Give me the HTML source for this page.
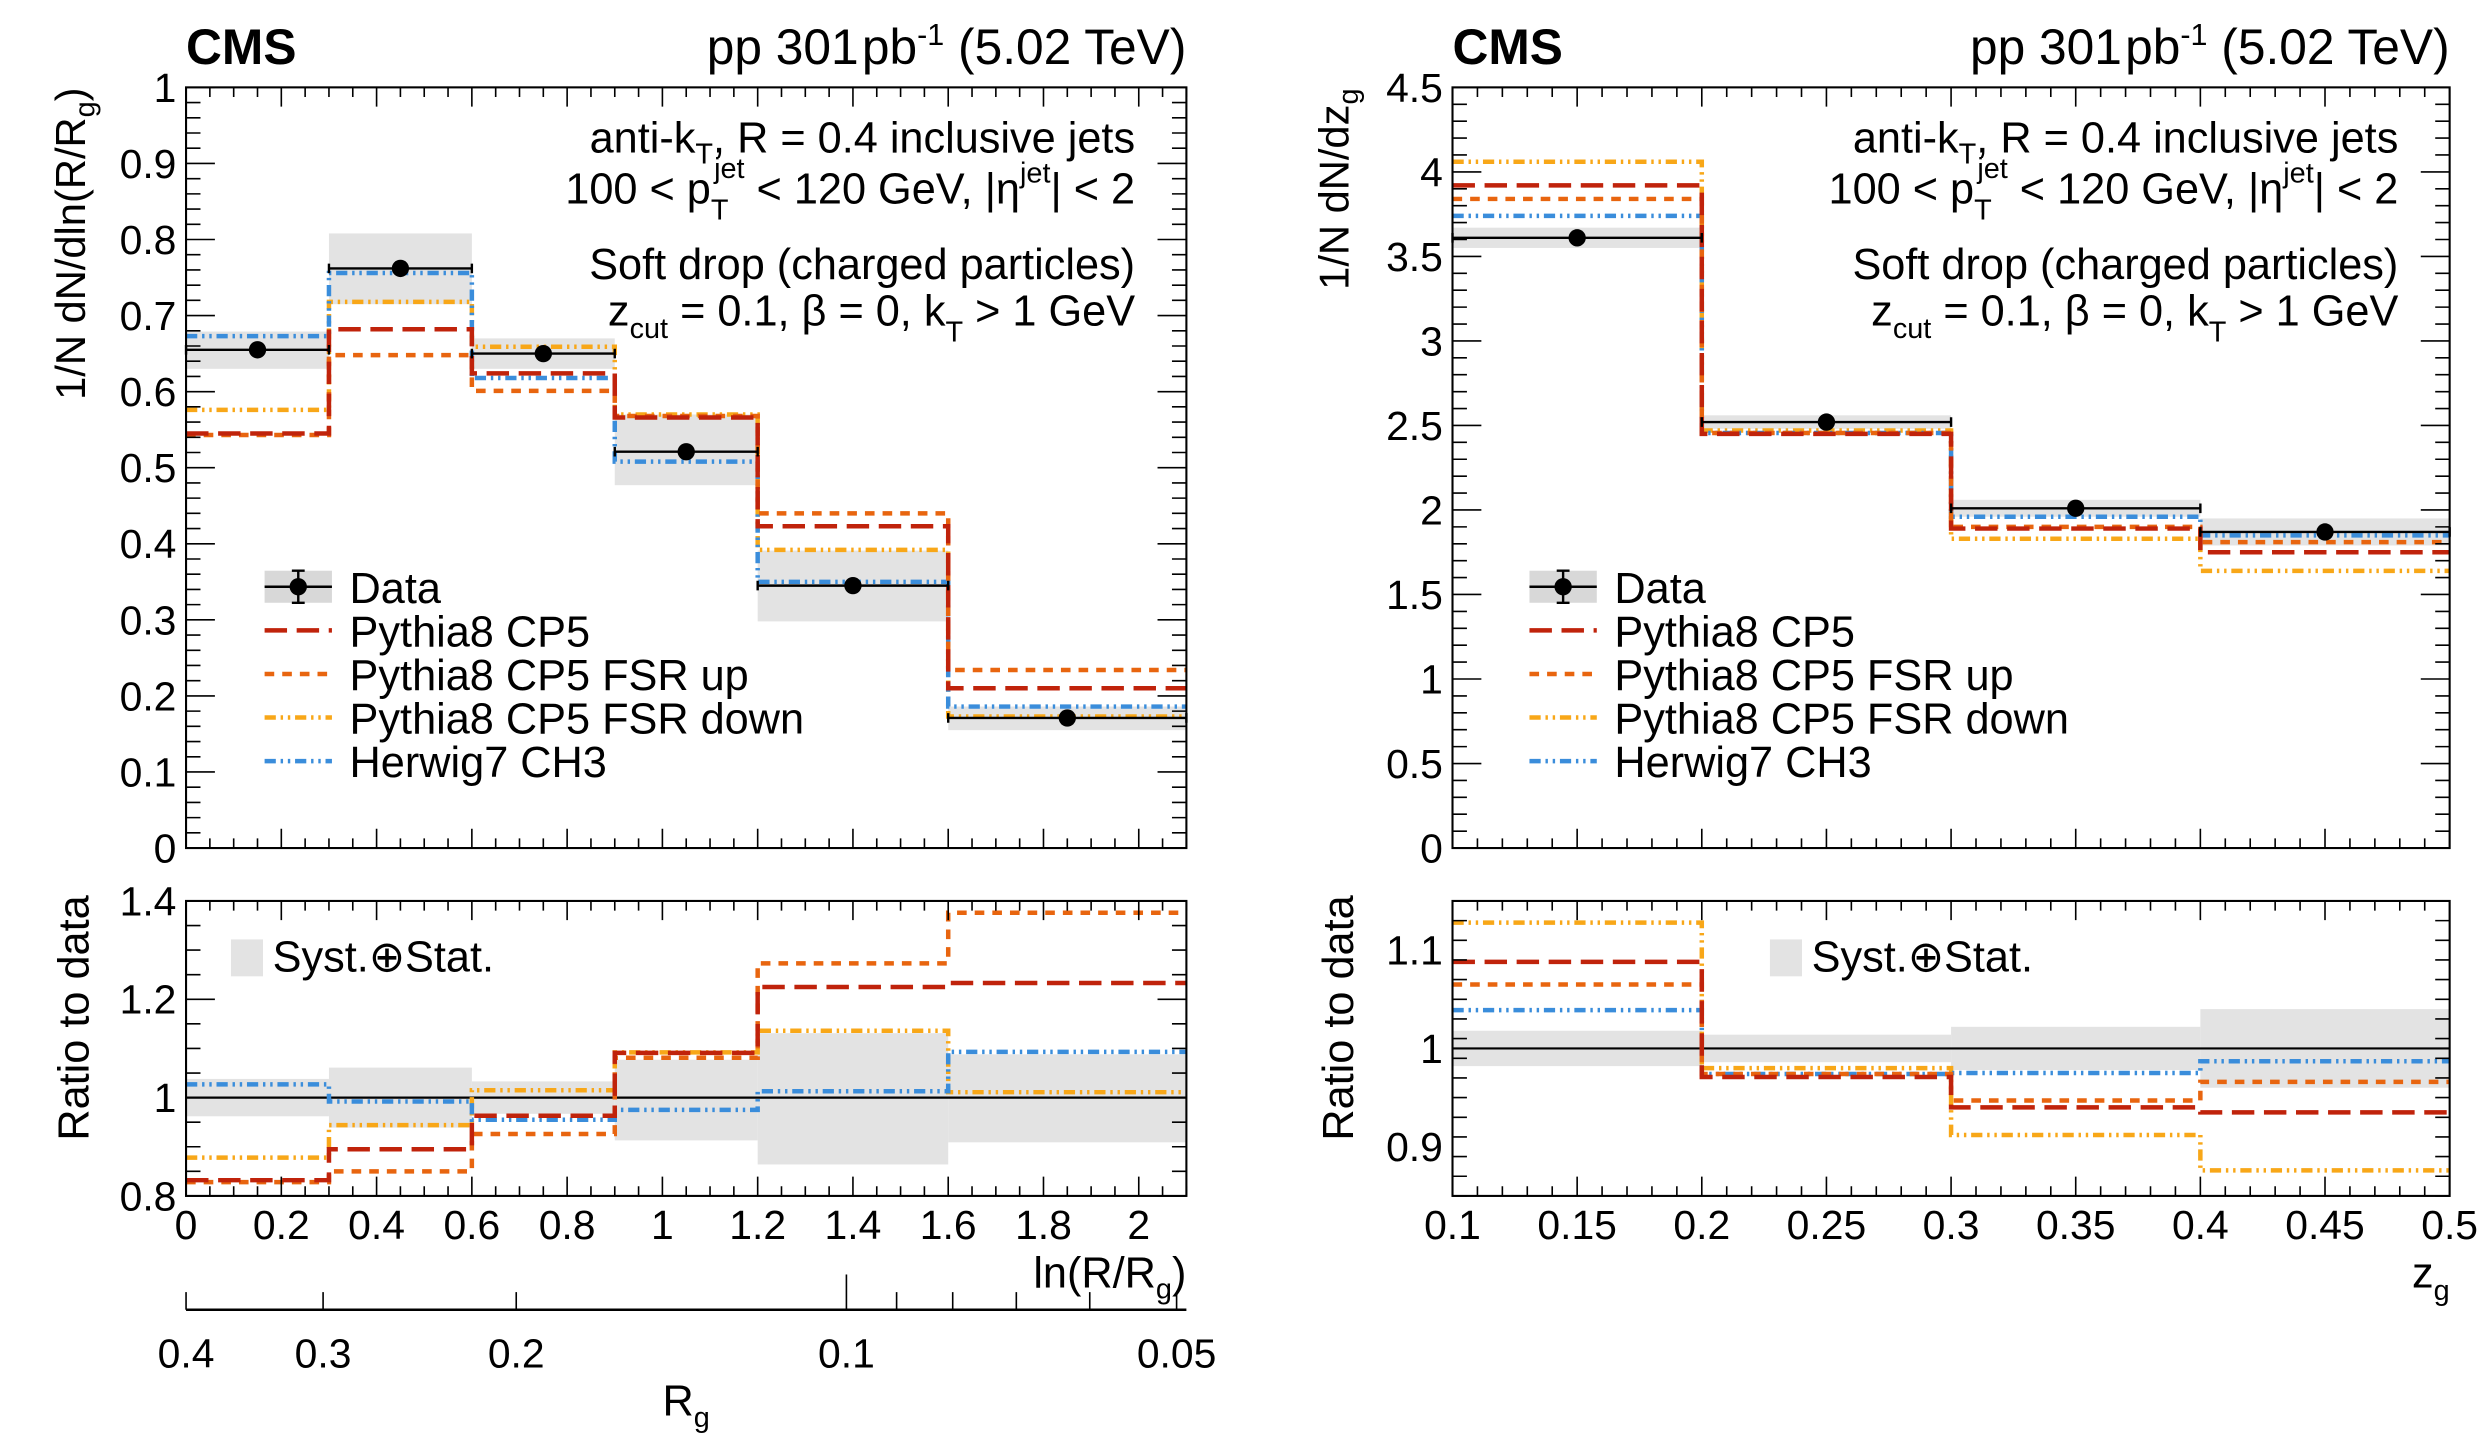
<!DOCTYPE html>
<html><head><meta charset="utf-8"><style>
html,body{margin:0;padding:0;background:#fff}
svg{display:block;font-family:"Liberation Sans",Arial,sans-serif}
</style></head><body>
<svg id="c" width="2485" height="1442" viewBox="0 0 1550 899.5" xmlns="http://www.w3.org/2000/svg"></svg>
<script>
// ---- Left panel data (ln(R/Rg)) ----
const lEdges=[0,0.3,0.6,0.9,1.2,1.6,2.1];
const lData=[0.655,0.762,0.650,0.521,0.345,0.171];
const lBandLo=[0.630,0.715,0.630,0.477,0.298,0.155];
const lBandHi=[0.679,0.808,0.670,0.570,0.391,0.186];
const lCP5=[0.545,0.682,0.624,0.566,0.423,0.210];
const lFSRup=[0.543,0.648,0.601,0.568,0.440,0.234];
const lFSRdn=[0.576,0.718,0.659,0.570,0.392,0.173];
const lHerwig=[0.673,0.756,0.618,0.508,0.350,0.186];
const lRBandLo=[0.962,0.939,0.967,0.913,0.864,0.909];
const lRBandHi=[1.038,1.061,1.033,1.077,1.131,1.088];
const lRCP5=[0.832,0.895,0.963,1.091,1.225,1.233];
const lRFSRup=[0.828,0.850,0.926,1.081,1.273,1.376];
const lRFSRdn=[0.878,0.944,1.015,1.092,1.136,1.011];
const lRHerwig=[1.027,0.992,0.955,0.975,1.013,1.093];
const lYTicks=["0","0.1","0.2","0.3","0.4","0.5","0.6","0.7","0.8","0.9","1"];
const lRYTicks=["0.8","1","1.2","1.4"];
const lXTicks=["0","0.2","0.4","0.6","0.8","1","1.2","1.4","1.6","1.8","2"];
const rgMajor=[0.4,0.3,0.2,0.1,0.05];
const rgMinor=[0.09,0.08,0.07,0.06];
// ---- Right panel data (zg) ----
const rEdges=[0.1,0.2,0.3,0.4,0.5];
const rData=[3.61,2.52,2.01,1.87];
const rBandLo=[3.55,2.48,1.96,1.79];
const rBandHi=[3.67,2.56,2.06,1.95];
const rCP5=[3.92,2.45,1.89,1.75];
const rFSRup=[3.84,2.455,1.90,1.81];
const rFSRdn=[4.06,2.47,1.83,1.64];
const rHerwig=[3.74,2.455,1.96,1.85];
const rRBandLo=[0.982,0.986,0.978,0.960];
const rRBandHi=[1.018,1.014,1.022,1.040];
const rRCP5=[1.088,0.971,0.940,0.935];
const rRFSRup=[1.065,0.974,0.947,0.966];
const rRFSRdn=[1.128,0.980,0.912,0.876];
const rRHerwig=[1.039,0.974,0.975,0.987];
const rYTicks=["0","0.5","1","1.5","2","2.5","3","3.5","4","4.5"];
const rRYTicks=["0.9","1","1.1"];
const rXTicks=["0.1","0.15","0.2","0.25","0.3","0.35","0.4","0.45","0.5"];

const NS="http://www.w3.org/2000/svg";
const svg=document.getElementById('c');
function el(tag,attrs,parent){const e=document.createElementNS(NS,tag);for(const k in attrs)e.setAttribute(k,attrs[k]);(parent||svg).appendChild(e);return e;}
function txt(s,x,y,size,anchor,parent,weight){const t=el('text',{x:x,y:y,'font-size':size,'text-anchor':anchor||'start'},parent);if(weight)t.setAttribute('font-weight',weight);t.innerHTML=s;return t;}
const styles={
 cp5:{stroke:'#c0230b',dash:'14,6'},
 up:{stroke:'#e8650f',dash:'6,5'},
 dn:{stroke:'#f8a718',dash:'7,3,1.5,3,1.5,3'},
 hw:{stroke:'#3a8ddb',dash:'7,3,1.5,3,1.5,3'}
};
const TK=25.5, AN=27, LG=27;
function makeAxis(x0,x1,xmin,xmax,y0,y1,ymin,ymax){
 return {X:v=>x0+(v-xmin)/(xmax-xmin)*(x1-x0),Y:v=>y0-(v-ymin)/(ymax-ymin)*(y0-y1),x0,x1,y0,y1};
}
function frame(ax,g,xMaj,xMin,yMaj,yMin,xmin,xmax,ymin,ymax,lenY,lenX){
 el('rect',{x:ax.x0,y:ax.y1,width:ax.x1-ax.x0,height:ax.y0-ax.y1,fill:'none',stroke:'#000','stroke-width':1.3},g);
 let d='';
 for(let v=xmin;v<=xmax+1e-9;v+=xMin){const x=ax.X(v);const maj=Math.abs(v/xMaj-Math.round(v/xMaj))<1e-6;const L=maj?lenX:lenX/2;d+=`M${x},${ax.y0}v${-L}M${x},${ax.y1}v${L}`;}
 for(let v=ymin;v<=ymax+1e-9;v+=yMin){const y=ax.Y(v);const maj=Math.abs(v/yMaj-Math.round(v/yMaj))<1e-6;const L=maj?lenY:lenY/2;d+=`M${ax.x0},${y}h${L}M${ax.x1},${y}h${-L}`;}
 el('path',{d:d,stroke:'#000','stroke-width':1,fill:'none'},g);
}
function step(ax,edges,vals,st,g,name){
 let d=`M${ax.X(edges[0])},${ax.Y(vals[0])}`;
 for(let i=0;i<vals.length;i++){d+=`L${ax.X(edges[i+1])},${ax.Y(vals[i])}`;if(i<vals.length-1)d+=`L${ax.X(edges[i+1])},${ax.Y(vals[i+1])}`;}
 const p=el('path',{d:d,fill:'none',stroke:st.stroke,'stroke-width':2.8,'stroke-dasharray':st.dash},g);
 
 
}
function bands(ax,edges,lo,hi,g,name){
 for(let i=0;i<lo.length;i++){
  const r=el('rect',{x:ax.X(edges[i]),y:ax.Y(hi[i]),width:ax.X(edges[i+1])-ax.X(edges[i]),height:ax.Y(lo[i])-ax.Y(hi[i]),fill:'#e3e3e3'},g);
  
  
 }
}
function dataPts(ax,edges,vals,g){
 for(let i=0;i<vals.length;i++){
  const xa=ax.X(edges[i]),xb=ax.X(edges[i+1]),y=ax.Y(vals[i]);
  el('path',{d:`M${xa},${y}H${xb}M${xa},${y-3}v6M${xb},${y-3}v6`,stroke:'#000','stroke-width':1.5,fill:'none'},g);
  const c=el('circle',{cx:(xa+xb)/2,cy:y,r:5.4,fill:'#000'},g);
  
  
 }
}
function yLabels(ax,ticks,g,size){ticks.forEach(t=>{txt(t,ax.x0-6,ax.Y(parseFloat(t))+9,size,'end',g);});}
function xLabels(ax,ticks,g,size){ticks.forEach(t=>{txt(t,ax.X(parseFloat(t)),ax.y0+27,size,'middle',g);});}
function legend(x,y,g){
 const lg=el('g',{},g);
 
 
 const sp=27.2;
 el('rect',{x:x,y:y-10,width:42,height:20,fill:'#d8d8d8'},lg);
 el('path',{d:`M${x},${y}h42M${x+21},${y-10}v20M${x+17},${y-10}h8M${x+17},${y+10}h8`,stroke:'#000','stroke-width':1.5},lg);
 el('circle',{cx:x+21,cy:y,r:5.4,fill:'#000'},lg);
 txt('Data',x+53,y+10,LG,'start',lg);
 const items=[['cp5','Pythia8 CP5'],['up','Pythia8 CP5 FSR up'],['dn','Pythia8 CP5 FSR down'],['hw','Herwig7 CH3']];
 items.forEach((it,k)=>{const yy=y+sp*(k+1);el('path',{d:`M${x},${yy}h42`,stroke:styles[it[0]].stroke,'stroke-width':2.8,'stroke-dasharray':styles[it[0]].dash},lg);txt(it[1],x+53,yy+10,LG,'start',lg);});
}
function header(x0,x1,g){
 txt('CMS',x0,40,31,'start',g,'bold');
 txt('pp 301<tspan dx="2">pb</tspan><tspan dy="-12" font-size="19">-1</tspan><tspan dy="12"> (5.02 TeV)</tspan>',x1,40,31,'end',g);
 const a=x1-32;
 txt('anti-k<tspan dy="7" font-size="18">T</tspan><tspan dy="-7">, R = 0.4 inclusive jets</tspan>',a,95,AN,'end',g);
 txt('100 &lt; p<tspan dy="10" font-size="18">T</tspan><tspan dy="-26" font-size="18" dx="-9">jet</tspan><tspan dy="16"> &lt; 120 GeV, |η</tspan><tspan dy="-13" font-size="18">jet</tspan><tspan dy="13">| &lt; 2</tspan>',a,127,AN,'end',g);
 txt('Soft drop (charged particles)',a,174,AN,'end',g);
 txt('z<tspan dy="8" font-size="18">cut</tspan><tspan dy="-8"> = 0.1, β = 0, k</tspan><tspan dy="10" font-size="18">T</tspan><tspan dy="-10"> &gt; 1 GeV</tspan>',a,203,AN,'end',g);
}

// ===== LEFT PANEL =====
const gL=el('g',{});


const axL=makeAxis(116,740,0,2.1,529,54.5,0,1);
bands(axL,lEdges,lBandLo,lBandHi,gL,'data-uncertainty-band');
step(axL,lEdges,lFSRdn,styles.dn,gL,'pythia-fsr-down-line');
step(axL,lEdges,lHerwig,styles.hw,gL,'herwig-line');
step(axL,lEdges,lFSRup,styles.up,gL,'pythia-fsr-up-line');
step(axL,lEdges,lCP5,styles.cp5,gL,'pythia-cp5-line');
dataPts(axL,lEdges,lData,gL);
frame(axL,gL,0.2,0.05,0.1,0.02,0,2.1,0,1,18,12);
yLabels(axL,lYTicks,gL,TK);
header(116,740,gL);
legend(165,366,gL);
const ytl=txt('1/N dN/dln(R/R<tspan dy="6" font-size="18">g</tspan><tspan dy="-6">)</tspan>',0,0,26,'middle',gL);
ytl.setAttribute('transform','translate(53,152) rotate(-90)');


// ratio
const axLR=makeAxis(116,740,0,2.1,746,562,0.8,1.4);
bands(axLR,lEdges,lRBandLo,lRBandHi,gL,'ratio-band');
el('line',{x1:116,x2:740,y1:axLR.Y(1),y2:axLR.Y(1),stroke:'#000','stroke-width':1.4},gL);
step(axLR,lEdges,lRFSRdn,styles.dn,gL,'ratio-fsr-down-line');
step(axLR,lEdges,lRHerwig,styles.hw,gL,'ratio-herwig-line');
step(axLR,lEdges,lRFSRup,styles.up,gL,'ratio-fsr-up-line');
step(axLR,lEdges,lRCP5,styles.cp5,gL,'ratio-cp5-line');
frame(axLR,gL,0.2,0.05,0.2,0.05,0,2.1,0.8,1.4,18,12);
yLabels(axLR,lRYTicks,gL,TK);
xLabels(axLR,lXTicks,gL,TK);
el('rect',{x:144,y:586,width:20,height:23,fill:'#e3e3e3'},gL);
txt('Syst.⊕Stat.',170,606,LG,'start',gL);
const rtl=txt('Ratio to data',0,0,27,'middle',gL);
rtl.setAttribute('transform','translate(55,635) rotate(-90)');
txt('ln(R/R<tspan dy="7" font-size="18">g</tspan><tspan dy="-7">)</tspan>',740,803,LG,'end',gL);
// secondary Rg axis
el('line',{x1:116,x2:740,y1:817,y2:817,stroke:'#000','stroke-width':1.5},gL);
const xRg=v=>116+Math.log(0.4/v)/2.1*(740-116);
rgMajor.forEach(v=>{const x=xRg(v);el('line',{x1:x,x2:x,y1:817,y2:v===0.1?795:806,stroke:'#000','stroke-width':1},gL);txt(String(v),x,853,TK,'middle',gL);});
rgMinor.forEach(v=>{const x=xRg(v);el('line',{x1:x,x2:x,y1:817,y2:806,stroke:'#000','stroke-width':1},gL);});
txt('R<tspan dy="7" font-size="18">g</tspan>',428,883,LG,'middle',gL);

// ===== RIGHT PANEL =====
const gR=el('g',{});


const axR=makeAxis(906,1528,0.1,0.5,529,54.5,0,4.5);
bands(axR,rEdges,rBandLo,rBandHi,gR,'data-uncertainty-band');
step(axR,rEdges,rFSRdn,styles.dn,gR,'pythia-fsr-down-line');
step(axR,rEdges,rHerwig,styles.hw,gR,'herwig-line');
step(axR,rEdges,rFSRup,styles.up,gR,'pythia-fsr-up-line');
step(axR,rEdges,rCP5,styles.cp5,gR,'pythia-cp5-line');
dataPts(axR,rEdges,rData,gR);
frame(axR,gR,0.05,0.01,0.5,0.1,0.1,0.5,0,4.5,18,12);
yLabels(axR,rYTicks,gR,TK);
header(906,1528,gR);
legend(954,366,gR);
const ytr=txt('1/N dN/dz<tspan dy="6" font-size="18">g</tspan>',0,0,26,'middle',gR);
ytr.setAttribute('transform','translate(841,118) rotate(-90)');
const axRR=makeAxis(906,1528,0.1,0.5,746,562,0.85,1.15);
bands(axRR,rEdges,rRBandLo,rRBandHi,gR,'ratio-band');
el('line',{x1:906,x2:1528,y1:axRR.Y(1),y2:axRR.Y(1),stroke:'#000','stroke-width':1.4},gR);
step(axRR,rEdges,rRFSRdn,styles.dn,gR,'ratio-fsr-down-line');
step(axRR,rEdges,rRHerwig,styles.hw,gR,'ratio-herwig-line');
step(axRR,rEdges,rRFSRup,styles.up,gR,'ratio-fsr-up-line');
step(axRR,rEdges,rRCP5,styles.cp5,gR,'ratio-cp5-line');
frame(axRR,gR,0.05,0.01,0.1,0.02,0.1,0.5,0.85,1.15,18,12);
yLabels(axRR,rRYTicks,gR,TK);
xLabels(axRR,rXTicks,gR,TK);
el('rect',{x:1104,y:586,width:20,height:23,fill:'#e3e3e3'},gR);
txt('Syst.⊕Stat.',1130,606,LG,'start',gR);
const rtr=txt('Ratio to data',0,0,27,'middle',gR);
rtr.setAttribute('transform','translate(844,635) rotate(-90)');
txt('z<tspan dy="8" font-size="18">g</tspan>',1528,803,LG,'end',gR);
</script>
</body></html>
